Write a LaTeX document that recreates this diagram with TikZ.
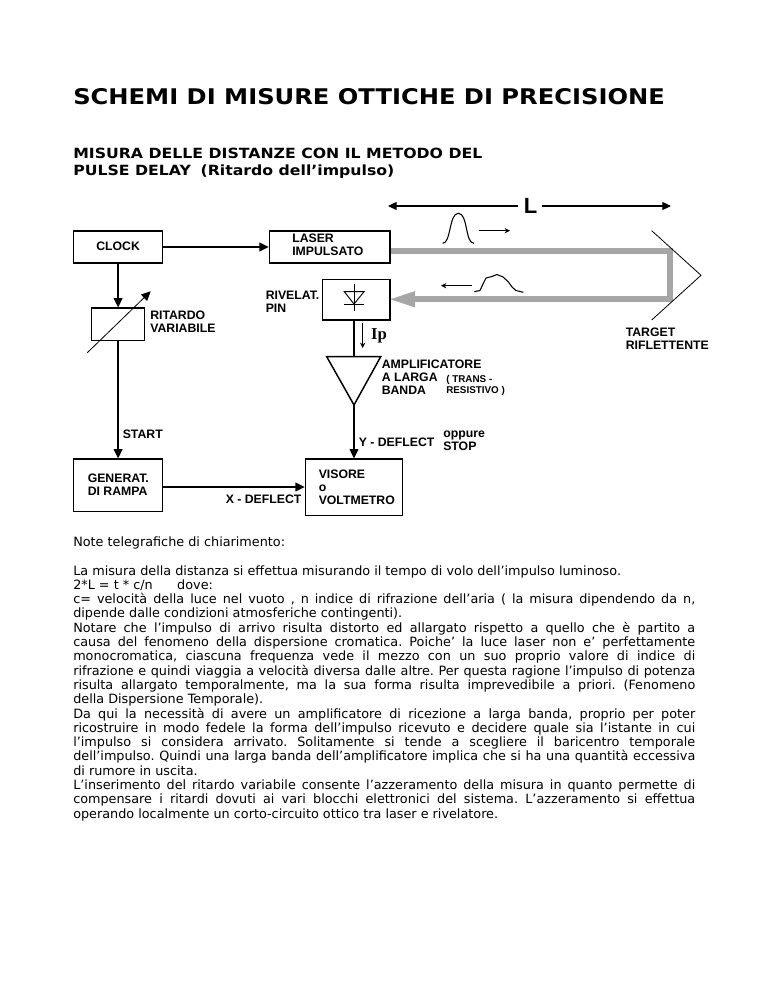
\documentclass[tikz,border=0pt]{standalone}
\usepackage{fontspec}
\setmainfont{DejaVu Sans}
\newfontfamily\arialf{Liberation Sans}
\newfontfamily\timesf{Liberation Serif}
\newfontfamily\headf[FakeStretch=1.12]{DejaVu Sans Bold}
\usetikzlibrary{arrows.meta}
\frenchspacing
\newcommand{\bodyf}{\fontsize{9.6}{12}\selectfont}
\newcommand{\jl}[3]{\node[anchor=base west,inner sep=0pt] (#1) at (73,#2+1) {\bodyf\makebox[466.5pt][s]{#3}};}
\newcommand{\nl}[3]{\node[anchor=base west,inner sep=0pt] (#1) at (73,#2+1) {\bodyf #3};}
\tikzset{
 x=0.75pt,y=-0.75pt,
 bx/.style={draw,line width=0.9pt,inner sep=0pt},
 lbl/.style={inner sep=0pt,align=left,anchor=west,font=\arialf\bfseries\fontsize{9.2}{9.9}\selectfont},
 sml/.style={inner sep=0pt,align=left,anchor=west,font=\arialf\bfseries\fontsize{7.4}{8.3}\selectfont},
 conn/.style={line width=1.1pt,-{Triangle[length=7pt,width=6.5pt]}},
 solidline/.style={line width=1.1pt},
 beam/.style={line width=4.5pt,draw=black!35,line cap=butt,line join=miter},
 fine/.style={line width=0.5pt,-{Stealth[length=4pt,width=4pt]}},
 head/.style={anchor=base west,inner sep=0pt,font=\headf\fontsize{10.53}{12.4}\selectfont},
}
\begin{document}
\begin{tikzpicture}
\useasboundingbox (0,0) rectangle (768,994);
% headings
\node[anchor=base west,inner sep=0pt,font=\headf\fontsize{16.2}{20}\selectfont] (title) at (73,105) {SCHEMI DI MISURE OTTICHE DI PRECISIONE};
\node[head] (sub1) at (73,159) {MISURA DELLE DISTANZE CON IL METODO DEL};
\node[head] (sub2) at (73,176) {PULSE DELAY\ \ \kern-1pt(Ritardo dell’impulso)};
% boxes
\node[bx,minimum width=67pt,minimum height=24pt] (clock) at (118.1,247) {};
\node[bx,minimum width=90.5pt,minimum height=24pt] (laser) at (329.7,247) {};
\node[bx,minimum width=50.5pt,minimum height=30.5pt] (pin) at (356.3,299.7) {};
\node[bx,minimum width=40pt,minimum height=24.5pt] (rit) at (118.1,324.4) {};
\node[bx,minimum width=67pt,minimum height=39.5pt] (gen) at (118.1,485.4) {};
\node[bx,minimum width=73pt,minimum height=42.5pt] (vis) at (354,487.4) {};
% box labels
\node[lbl] (tclock) at (96,246.5) {CLOCK};
\node[lbl] (tlaser) at (292,244.5) {LASER\\IMPULSATO};
\node[lbl] (trit) at (150,322) {RITARDO\\VARIABILE};
\node[lbl] (tpin) at (265.5,301.5) {RIVELAT.\\PIN};
\node[lbl] (tgen) at (87.5,484.5) {GENERAT.\\DI RAMPA};
\node[lbl] (tvis) at (318.5,487.5) {VISORE\\o\\VOLTMETRO};
\node[lbl] (tamp) at (381.5,377.5) {AMPLIFICATORE\\A LARGA\\BANDA};
\node[sml] (ttrans) at (446,385.5) {( TRANS -\\RESISTIVO )};
\node[lbl] (tstart) at (122.5,434) {START};
\node[lbl] (ty) at (358.5,442) {Y - DEFLECT};
\node[lbl] (topp) at (443,440.5) {oppure\\STOP};
\node[lbl] (tx) at (225.5,499) {X - DEFLECT};
\node[lbl] (ttar) at (625.5,339) {TARGET\\RIFLETTENTE};
\node[inner sep=0pt,font=\timesf\bfseries\fontsize{12.5}{14}\selectfont] (tip) at (379,336) {Ip};
\node[inner sep=0pt,font=\arialf\bfseries\fontsize{16.5}{18}\selectfont] (tL) at (530.5,206) {L};
% amplifier
\coordinate (a1) at (326.7,356.7); \coordinate (a2) at (380.7,356.7); \coordinate (a3) at (354,405);
\draw[solidline,line join=miter] (a1) -- (a2) -- (a3) -- cycle;
% connectors
\coordinate (y2) at (0,487);
\draw[conn] (clock) -- (laser);
\draw[conn] (clock) -- (rit);
\draw[conn] (rit) -- (gen);
\draw[conn] (gen.east |- y2) -- (vis.west |- y2);
\draw[solidline] (a3 |- pin.south) -- (a3 |- a1);
\draw[conn] (a3) -- (vis);
\coordinate (v1) at (87.3,352.7); \coordinate (v2) at (150.7,291.3);
\draw[line width=0.6pt,-{Triangle[length=7pt,width=6.5pt]}] (v1) -- (v2);
\coordinate (i1) at (362.7,323); \coordinate (i2) at (362.7,348);
\draw[fine] (i1) -- (i2);
% L
\coordinate (La) at (388,206); \coordinate (Lb) at (671,206);
\coordinate (La0) at (518,206); \coordinate (Lb0) at (542,206);
\draw[line width=0.9pt,-{Triangle[length=6.5pt,width=6pt]}] (La0) -- (La);
\draw[line width=0.9pt,-{Triangle[length=6.5pt,width=6pt]}] (Lb0) -- (Lb);
% beam
\coordinate (b1) at (670,250.7); \coordinate (b2) at (670,299.3); \coordinate (b3) at (413,299.3);
\draw[beam] (laser.east |- b1) -- (b1) -- (b2) -- (b3);
\fill[black!35] (pin.east |- b3) -- (415,291) -- (415,307.5) -- cycle;
% target
\coordinate (t1) at (651.7,230.7); \coordinate (t2) at (701,275.3); \coordinate (t3) at (651.7,320);
\draw[line width=0.6pt] (t1) -- (t2) -- (t3);
% pulses
\draw[line width=0.8pt] (442.7,243.3) .. controls (451,243.5) and (449,213.3) .. (458.3,213.3) .. controls (468,213.3) and (465,243.5) .. (474,243.3);
\draw[line width=0.8pt] (474.3,291.7) -- (480,290.5) -- (483,284) -- (486,278) -- (492,276.5) -- (497,274.5) -- (503,277) -- (508,281.5) -- (512,287) -- (516,290.5) -- (523.3,292.3);
\coordinate (r1) at (478.7,230.7); \coordinate (r2) at (510,230.7);
\draw[fine] (r1) -- (r2);
\coordinate (l1) at (471.7,285.7); \coordinate (l2) at (441,285.7);
\draw[fine] (l1) -- (l2);
% diode
\coordinate (d1) at (354,284); \coordinate (d2) at (354,311.5);
\draw[line width=0.7pt] (d1) -- (d2);
\draw[line width=0.7pt] (344.3,291.7) -- (364,291.7) -- (354,304) -- cycle;
\draw[line width=0.7pt] (344.3,304) -- (364,304);
% text
\nl{n0}{545}{Note telegrafiche di chiarimento:}
\nl{n1}{574}{La misura della distanza si effettua misurando il tempo di volo dell’impulso luminoso.}
\nl{n2}{588.3}{2*L = t * c/n \ \ \ \ \ dove:}
\jl{n3}{602.6}{c= velocità della luce nel vuoto , n indice di rifrazione dell’aria ( la misura dipendendo da n,}
\nl{n4}{616.9}{dipende dalle condizioni atmosferiche contingenti).}
\jl{n5}{631.2}{Notare che l’impulso di arrivo risulta distorto ed allargato rispetto a quello che è partito a}
\jl{n6}{645.5}{causa del fenomeno della dispersione cromatica. Poiche’ la luce laser non e’ perfettamente}
\jl{n7}{659.8}{monocromatica, ciascuna frequenza vede il mezzo con un suo proprio valore di indice di}
\jl{n8}{674.1}{rifrazione e quindi viaggia a velocità diversa dalle altre. Per questa ragione l’impulso di potenza}
\jl{n9}{688.4}{risulta allargato temporalmente, ma la sua forma risulta imprevedibile a priori. (Fenomeno}
\nl{n10}{702.7}{della Dispersione Temporale).}
\jl{n11}{717}{Da qui la necessità di avere un amplificatore di ricezione a larga banda, proprio per poter}
\jl{n12}{731.3}{ricostruire in modo fedele la forma dell’impulso ricevuto e decidere quale sia l’istante in cui}
\jl{n13}{745.6}{l’impulso si considera arrivato. Solitamente si tende a scegliere il baricentro temporale}
\jl{n14}{759.9}{dell’impulso. Quindi una larga banda dell’amplificatore implica che si ha una quantità eccessiva}
\nl{n15}{774.2}{di rumore in uscita.}
\jl{n16}{788.5}{L’inserimento del ritardo variabile consente l’azzeramento della misura in quanto permette di}
\jl{n17}{802.8}{compensare i ritardi dovuti ai vari blocchi elettronici del sistema. L’azzeramento si effettua}
\nl{n18}{817.1}{operando localmente un corto-circuito ottico tra laser e rivelatore.}
\end{tikzpicture}
\end{document}
